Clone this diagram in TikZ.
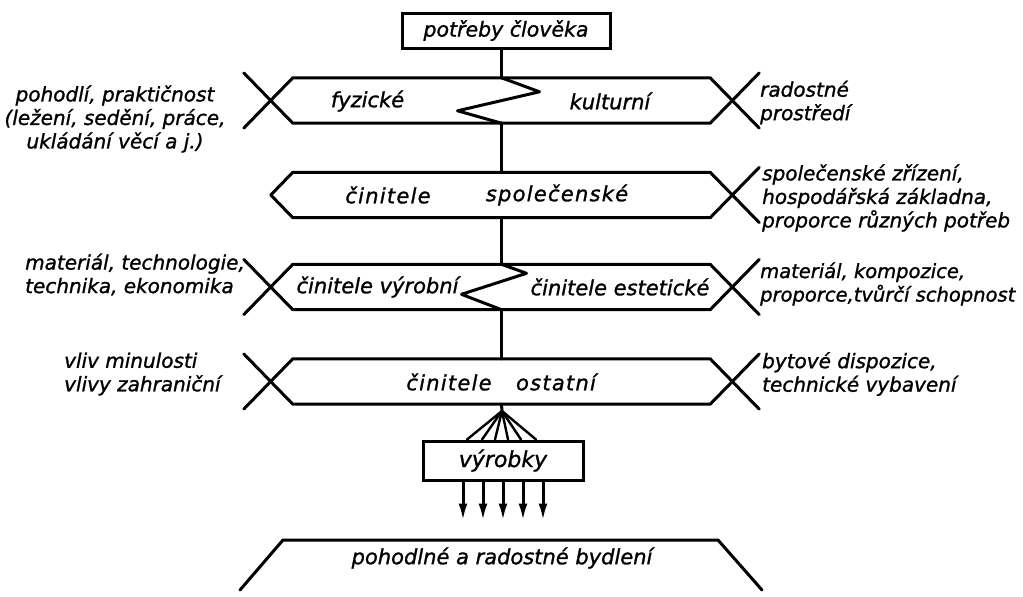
\documentclass[tikz,border=0pt]{standalone}
\usepackage{fontspec}
\setmainfont{DejaVu Sans}[ItalicFeatures={FakeBold=1.2}]
\usetikzlibrary{arrows.meta,calc}
\begin{document}
\begin{tikzpicture}[x=1pt,y=-1pt,
  lbl/.style={font=\fontsize{20}{23.5}\selectfont\itshape, inner sep=0pt, align=left},
  inl/.style={font=\fontsize{21}{24}\selectfont\itshape, inner sep=0pt},
  spaced/.style={font=\fontsize{21}{24}\selectfont\itshape\addfontfeature{LetterSpace=6,FakeBold=1.2}, inner sep=0pt},
  ln/.style={line width=3pt, line cap=round, line join=round},
  fan/.style={line width=2.4pt, line cap=round},
  rowbox/.style={minimum width=417pt, minimum height=45pt, inner sep=0pt, draw=none},
  boxed/.style={draw, line width=3pt, inner sep=0pt},
  arr/.style={line width=3pt, -{Latex[length=17pt,width=9pt]}}
]
\useasboundingbox (0,0) rectangle (1023,597);

% rows
\node[rowbox] (r1) at (501.5,100.5) {};
\node[rowbox] (r2) at (501.5,195) {};
\node[rowbox] (r3) at (501.5,287) {};
\node[rowbox] (r4) at (501.5,381.5) {};

% row 1: X both sides
\draw[ln] ($(r1.west)+(-49,-27.6)$) -- (r1.south west) -- (r1.south east) -- ($(r1.east)+(49,-27.6)$);
\draw[ln] ($(r1.west)+(-49,27.6)$) -- (r1.north west) -- (r1.north east) -- ($(r1.east)+(49,27.6)$);
\draw[ln] (r1.north) -- ($(r1.north)+(38,14)$) -- ($(r1.north)+(-44,33)$) -- (r1.south);

% row 2: plain left tip, X right
\draw[ln] (r2.north west) -- ($(r2.west)+(-22,0)$) -- (r2.south west) -- (r2.south east) -- ($(r2.east)+(49,-27.6)$);
\draw[ln] (r2.north west) -- (r2.north east) -- ($(r2.east)+(49,27.6)$);

% row 3
\draw[ln] ($(r3.west)+(-49,-27.6)$) -- (r3.south west) -- (r3.south east) -- ($(r3.east)+(49,-27.6)$);
\draw[ln] ($(r3.west)+(-49,27.6)$) -- (r3.north west) -- (r3.north east) -- ($(r3.east)+(49,27.6)$);
\draw[ln] (r3.north) -- ($(r3.north)+(25,9)$) -- ($(r3.north)+(-40,30)$) -- (r3.south);

% row 4
\draw[ln] ($(r4.west)+(-49,-27.6)$) -- (r4.south west) -- (r4.south east) -- ($(r4.east)+(49,-27.6)$);
\draw[ln] ($(r4.west)+(-49,27.6)$) -- (r4.north west) -- (r4.north east) -- ($(r4.east)+(49,27.6)$);

% top box
\node[boxed, minimum width=208pt, minimum height=35pt, font=\fontsize{20.5}{24}\selectfont\itshape] (top) at (506,30.5) {potřeby člověka};

% connectors
\draw[ln] (r1.north |- top.south) -- (r1.north);
\draw[ln] (r1.south) -- (r2.north);
\draw[ln] (r2.south) -- (r3.north);
\draw[ln] (r3.south) -- (r4.north);

% products
\node[boxed, minimum width=160pt, minimum height=39pt, font=\fontsize{22}{24}\selectfont\itshape] (vb) at (503,460.5) {výrobky};
\coordinate (apex) at (502,411);
\draw[ln] (r4.south) -- (apex);
\foreach \dx in {-36,-21,-8,5,18,33} \draw[fan] (apex) -- ($(vb.north)+(\dx,0)$);
\foreach \dx in {-40,-20,0,20,40} \draw[arr] ($(vb.south)+(\dx,0)$) -- ($(vb.south)+(\dx,39)$);

% bottom trapezoid
\draw[ln] (240,590) -- (283,540) -- (718,540) -- (762,590);
\node[inl] (t5) at (502,558) {pohodlné a radostné bydlení};

% inner labels
\node[inl] (t1a) at (367.5,101) {fyzické};
\node[inl] (t1b) at (610,101) {kulturní};
\node[spaced] (t2a) at (388,195) {činitele};
\node[spaced] (t2b) at (557,195) {společenské};
\node[inl] (t3a) at (377.5,287) {činitele výrobní};
\node[inl] (t3b) at (620,287) {činitele estetické};
\node[spaced] (t4a) at (449,382) {činitele};
\node[spaced] (t4b) at (556,382) {ostatní};

% side labels
\node[lbl, align=center] (l1) at (115,119) {pohodlí, praktičnost\\(ležení, sedění, práce,\\ukládání věcí a j.)};
\node[lbl, anchor=west] (rt1) at (760,102.5) {radostné\\prostředí};
\node[lbl, anchor=west] (rt2) at (762,198) {společenské zřízení,\\hospodářská základna,\\proporce různých potřeb};
\node[lbl, anchor=west] (l3) at (25,274.5) {materiál, technologie,\\technika, ekonomika};
\node[lbl, anchor=west, font=\fontsize{19.5}{23.5}\selectfont\itshape] (rt3) at (760,284) {materiál, kompozice,\\proporce,tvůrčí schopnost};
\node[lbl, anchor=west] (l4) at (64,374) {vliv minulosti\\vlivy zahraniční};
\node[lbl, anchor=west] (rt4) at (762,374) {bytové dispozice,\\technické vybavení};
\end{tikzpicture}
\end{document}
